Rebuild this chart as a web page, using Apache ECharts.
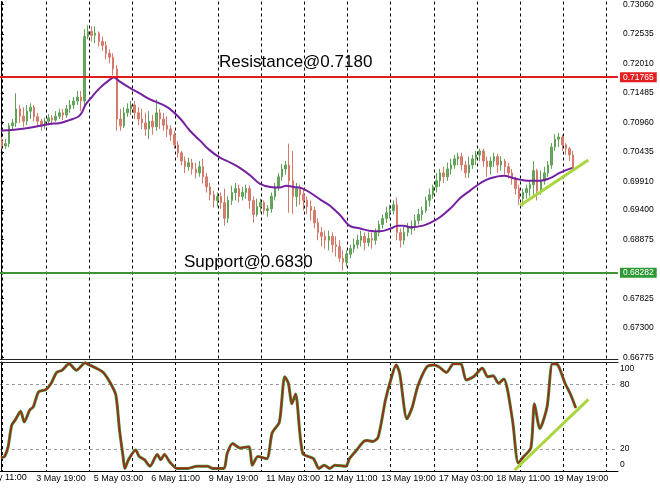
<!DOCTYPE html>
<html><head><meta charset="utf-8">
<script src="https://cdn.jsdelivr.net/npm/echarts@6/dist/echarts.min.js"></script>
<style>html,body{margin:0;padding:0;background:#fff}#c{width:660px;height:492px}</style>
</head><body><div id="c"></div>
<script>
// 2-hour bars, hour 0 = 3 May 01:00 (trading hours)
const barOpen = [0.7063,0.7054,0.7058,0.7090,0.7095,0.7120,0.7107,0.7098,0.7116,0.7123,
0.7106,0.7098,0.7091,0.7098,0.7104,0.7100,0.7107,0.7113,0.7109,0.7120,
0.7127,0.7134,0.7141,0.7134,0.7249,0.7258,0.7251,0.7255,0.7240,0.7233,
0.7219,0.7212,0.7191,0.7102,0.7090,0.7113,0.7120,0.7127,0.7113,0.7102,
0.7095,0.7084,0.7098,0.7088,0.7113,0.7102,0.7091,0.7084,0.7074,0.7056,
0.7042,0.7027,0.7017,0.7024,0.7013,0.7006,0.7017,0.6999,0.6981,0.6967,
0.6957,0.6964,0.6953,0.6925,0.6957,0.6971,0.6978,0.6964,0.6971,0.6978,
0.6957,0.6932,0.6946,0.6953,0.6939,0.6942,0.6964,0.6981,0.6999,0.7013,
0.7020,0.6992,0.6964,0.6978,0.6967,0.6957,0.6946,0.6939,0.6917,0.6900,
0.6893,0.6886,0.6893,0.6878,0.6875,0.6854,0.6847,0.6861,0.6871,0.6878,
0.6886,0.6893,0.6882,0.6889,0.6886,0.6900,0.6914,0.6925,0.6935,0.6939,
0.6949,0.6900,0.6886,0.6900,0.6907,0.6910,0.6921,0.6932,0.6939,0.6957,
0.6967,0.6981,0.6992,0.7006,0.6999,0.7013,0.7020,0.7031,0.7035,0.7020,
0.7006,0.7020,0.7031,0.7038,0.7045,0.7027,0.7017,0.7027,0.7035,0.7020,
0.7027,0.7017,0.7006,0.6996,0.6978,0.6960,0.6971,0.6978,0.6985,0.7010,
0.6974,0.6992,0.7006,0.7020,0.7052,0.7066,0.7070,0.7056,0.7049,0.7038];
const barClose = [0.7054,0.7058,0.7090,0.7095,0.7120,0.7107,0.7098,0.7116,0.7123,0.7106,
0.7098,0.7091,0.7098,0.7104,0.7100,0.7107,0.7113,0.7109,0.7120,0.7127,
0.7134,0.7141,0.7134,0.7249,0.7258,0.7251,0.7255,0.7240,0.7233,0.7219,
0.7212,0.7191,0.7102,0.7090,0.7113,0.7120,0.7127,0.7113,0.7102,0.7095,
0.7084,0.7098,0.7088,0.7113,0.7102,0.7091,0.7084,0.7074,0.7056,0.7042,
0.7027,0.7017,0.7024,0.7013,0.7006,0.7017,0.6999,0.6981,0.6967,0.6957,
0.6964,0.6953,0.6925,0.6957,0.6971,0.6978,0.6964,0.6971,0.6978,0.6957,
0.6932,0.6946,0.6953,0.6939,0.6942,0.6964,0.6981,0.6999,0.7013,0.7020,
0.6992,0.6964,0.6978,0.6967,0.6957,0.6946,0.6939,0.6917,0.6900,0.6893,
0.6886,0.6893,0.6878,0.6875,0.6854,0.6847,0.6861,0.6871,0.6878,0.6886,
0.6893,0.6882,0.6889,0.6886,0.6900,0.6914,0.6925,0.6935,0.6939,0.6949,
0.6900,0.6886,0.6900,0.6907,0.6910,0.6921,0.6932,0.6939,0.6957,0.6967,
0.6981,0.6992,0.7006,0.6999,0.7013,0.7020,0.7031,0.7035,0.7020,0.7006,
0.7020,0.7031,0.7038,0.7045,0.7027,0.7017,0.7027,0.7035,0.7020,0.7027,
0.7017,0.7006,0.6996,0.6978,0.6960,0.6971,0.6978,0.6985,0.7010,0.6974,
0.6992,0.7006,0.7020,0.7052,0.7066,0.7070,0.7056,0.7049,0.7038,0.70116];
const barHigh = [0.7070,0.7066,0.7095,0.7102,0.7148,0.7127,0.7123,0.7127,0.7130,0.7127,
0.7113,0.7102,0.7104,0.7111,0.7109,0.7116,0.7120,0.7120,0.7127,0.7136,
0.7141,0.7152,0.7152,0.7262,0.7269,0.7267,0.7267,0.7258,0.7249,0.7240,
0.7226,0.7219,0.7198,0.7120,0.7123,0.7130,0.7134,0.7134,0.7123,0.7120,
0.7113,0.7116,0.7109,0.7137,0.7120,0.7113,0.7107,0.7091,0.7081,0.7063,
0.7045,0.7035,0.7033,0.7031,0.7024,0.7027,0.7031,0.7006,0.6988,0.6974,
0.6971,0.6971,0.6978,0.6964,0.6983,0.6988,0.6985,0.6981,0.6985,0.6983,
0.6964,0.6960,0.6960,0.6957,0.6949,0.6971,0.6988,0.7006,0.7022,0.7027,
0.7058,0.7045,0.6988,0.6985,0.6978,0.6964,0.6957,0.6946,0.6925,0.6910,
0.6903,0.6903,0.6900,0.6893,0.6886,0.6868,0.6868,0.6878,0.6889,0.6896,
0.6903,0.6900,0.6900,0.6900,0.6907,0.6921,0.6932,0.6946,0.6949,0.6957,
0.6962,0.6907,0.6910,0.6917,0.6921,0.6932,0.6942,0.6946,0.6964,0.6978,
0.6985,0.7006,0.7013,0.7017,0.7024,0.7031,0.7038,0.7042,0.7042,0.7027,
0.7035,0.7038,0.7045,0.7049,0.7049,0.7035,0.7035,0.7042,0.7040,0.7036,
0.7031,0.7024,0.7013,0.6999,0.6985,0.6978,0.6985,0.6992,0.7027,0.7013,
0.7010,0.7017,0.7027,0.7059,0.7075,0.7077,0.7074,0.7059,0.7052,0.7045];
const barLow = [0.7049,0.7049,0.7052,0.7084,0.7088,0.7095,0.7088,0.7091,0.7102,0.7098,
0.7088,0.7081,0.7084,0.7091,0.7091,0.7097,0.7102,0.7100,0.7104,0.7113,
0.7120,0.7127,0.7116,0.7127,0.7244,0.7240,0.7237,0.7231,0.7223,0.7208,
0.7201,0.7180,0.7081,0.7081,0.7086,0.7106,0.7109,0.7102,0.7091,0.7084,
0.7072,0.7066,0.7074,0.7081,0.7084,0.7081,0.7070,0.7063,0.7049,0.7033,
0.7019,0.7006,0.7010,0.7003,0.6996,0.6999,0.6987,0.6971,0.6957,0.6944,
0.6946,0.6942,0.6912,0.6917,0.6949,0.6957,0.6953,0.6957,0.6960,0.6942,
0.6917,0.6928,0.6935,0.6932,0.6928,0.6935,0.6957,0.6974,0.6992,0.7003,
0.6935,0.6933,0.6946,0.6949,0.6939,0.6932,0.6921,0.6907,0.6886,0.6875,
0.6871,0.6868,0.6864,0.6857,0.6847,0.6832,0.6839,0.6854,0.6864,0.6871,
0.6875,0.6868,0.6875,0.6871,0.6878,0.6893,0.6907,0.6917,0.6925,0.6932,
0.6886,0.6873,0.6878,0.6893,0.6896,0.6903,0.6914,0.6921,0.6935,0.6946,
0.6960,0.6971,0.6981,0.6988,0.6992,0.7003,0.7013,0.7020,0.7010,0.6997,
0.6997,0.7013,0.7020,0.7027,0.7017,0.6999,0.7003,0.7017,0.7006,0.7010,
0.7003,0.6996,0.6985,0.6967,0.6949,0.6946,0.6960,0.6964,0.6967,0.6957,
0.6967,0.6985,0.6999,0.7013,0.7045,0.7052,0.7045,0.7038,0.7027,0.7010];
const barStartHour = 0.5, barStepHours = 2;

// moving average (purple)
const maHours = [0,11,22,27,33,38,43,45,47,50,55,61,63,66,72,77,83,89,94,100,105,111,116,122,128,133,139,144,150,155,159,163,168,172,178,183,189,194,200,205,211,217,221,224,228,235,239,244,250,256,261,267,272,280,285,289,293,300,306,311,318];
const maValues = [0.7081,0.7084,0.7090,0.7093,0.7095,0.7100,0.7106,0.7113,0.7127,0.7139,
0.7157,0.7173,0.7176,0.7169,0.7157,0.7148,0.7137,0.7129,0.7120,0.7102,
0.7082,0.7063,0.7047,0.7033,0.7024,0.7015,0.7001,0.6987,0.6981,0.6980,
0.6983,0.6981,0.6978,0.6971,0.6958,0.6948,0.6930,0.6912,0.6907,0.6903,
0.6902,0.6907,0.6912,0.6912,0.6909,0.6912,0.6917,0.6926,0.6942,0.6962,
0.6974,0.6988,0.6996,0.7001,0.6997,0.6994,0.6992,0.6992,0.6997,0.7006,0.7015];

// stochastic oscillator
const stochHours = [0,2,4,6,8,11,13,16,18,21,25,28,31,34,38,42,47,48,53,57,61,64,66,68,69,71,75,77,80,83,87,89,91,94,98,104,109,115,118,124,126,129,133,138,140,143,148,151,155,158,160,162,164,168,174,177,180,183,186,192,194,198,202,204,207,210,214,217,220,222,226,229,232,237,241,244,248,252,256,259,263,268,271,274,277,280,282,285,288,291,295,297,300,304,307,310,314,317,320];
const stochValues = [12,13,22,42,47,55,45,56,59,73,75,81,91,93,99,93,100,99,95,91,81,70,38,13,2,10,19,13,10,4,15,10,15,8,2,2,4,4,2,2,16,25,21,22,5,13,11,35,45,87,81,62,71,16,11,2,5,2,5,4,11,19,27,28,27,31,65,84,98,90,48,59,78,96,98,96,91,99,99,84,87,95,87,88,81,85,75,44,7,13,21,62,39,59,99,98,81,71,58];

// levels and trend lines
const resistanceLevel = 0.71765, supportLevel = 0.68282, lastPrice = 0.70116;
const trendHours = [289, 327], trendPrices = [0.6948, 0.7029];
const stochTrendHours = [286, 327], stochTrendValues = [0.5, 66];

// axis ticks
const priceTicks = [0.73060,0.72535,0.72010,0.71485,0.70960,0.70435,0.69910,0.69400,0.68875,0.67825,0.67300,0.66775];
const gridHours = [1,25,49,73,97,121,145,169,193,217,241,265,289,313,337];
const labelHours = [18,50,82,114,146,178,210,242,274,306];
const labelTexts = ['3 May 19:00','5 May 03:00','6 May 11:00','9 May 19:00','11 May 03:00','12 May 11:00','13 May 19:00','17 May 03:00','18 May 11:00','19 May 19:00'];
const stochTicks = [0,20,80,100];

const FF = '"Liberation Sans", Arial, sans-serif';
const candles = barOpen.map((o,i)=>[barStartHour + i*barStepHours, o, barClose[i], barLow[i], barHigh[i]]);
const ma = maHours.map((h,i)=>[h, maValues[i]]);
const stoch = stochHours.map((h,i)=>[h, stochValues[i]]);
const trend = trendHours.map((h,i)=>[h, trendPrices[i]]);
const strend = stochTrendHours.map((h,i)=>[h, stochTrendValues[i]]);

const vgrid = {show:true, lineStyle:{color:'#000', type:[3,3], width:1}};
const chart = echarts.init(document.getElementById('c'), null, {renderer:'canvas'});
function lvlLabel(bg){
  return {show:true, position:'end', distance:2, formatter:p=>Number(p.value).toFixed(5), color:'#fff', backgroundColor:bg, padding:[1,3,0,3], fontSize:8.5, fontFamily:FF};
}
chart.setOption({
  animation:false,
  backgroundColor:'#fff',
  grid:[{left:0,right:42,top:0,height:359},{left:0,right:42,top:362,height:109}],
  xAxis:[
    {type:'value',gridIndex:0,min:-0.5,max:343.5,axisLine:{show:true,onZero:false,lineStyle:{color:'#222'}},axisTick:{show:false,customValues:gridHours},axisLabel:{show:false},splitLine:vgrid},
    {type:'value',gridIndex:1,min:-0.5,max:343.5,axisLine:{show:true,onZero:false,lineStyle:{color:'#000'}},axisTick:{show:false,customValues:gridHours},
      axisLabel:{customValues:labelHours,formatter:v=>labelTexts[labelHours.indexOf(v)],align:'left',padding:[0,0,0,3],color:'#000',fontSize:9,fontFamily:FF,margin:3},splitLine:vgrid},
    {type:'value',gridIndex:1,position:'top',min:-0.5,max:343.5,axisLine:{show:true,onZero:false,lineStyle:{color:'#222'}},axisTick:{show:false},axisLabel:{show:false},splitLine:{show:false}}
  ],
  yAxis:[
    {type:'value',gridIndex:0,position:'right',min:0.66744,max:0.73113,axisLine:{show:true,lineStyle:{color:'#000'}},
      axisTick:{show:true,length:3,customValues:priceTicks,lineStyle:{color:'#000'}},
      axisLabel:{customValues:priceTicks,formatter:v=>v.toFixed(5),color:'#000',fontSize:8.5,fontFamily:FF,margin:5},splitLine:{show:false}},
    {type:'value',gridIndex:1,position:'right',min:-0.4,max:100.7,axisLine:{show:true,lineStyle:{color:'#000'}},
      axisTick:{show:false,customValues:[20,80]},
      axisLabel:{customValues:stochTicks,margin:2,color:'#000',fontSize:8.5,fontFamily:FF,
        formatter:v=>v===100?'{t|100}':(v===0?'{b|0}':String(v)),
        rich:{t:{padding:[11,0,0,0],fontSize:8.5,fontFamily:FF,color:'#000'},b:{padding:[0,0,12,0],fontSize:8.5,fontFamily:FF,color:'#000'}}},
      splitLine:{show:true,lineStyle:{color:'#9a9a9a',type:[3,3],width:1}}}
  ],
  series:[
    {type:'candlestick',xAxisIndex:0,yAxisIndex:0,data:candles,barWidth:2,
      itemStyle:{color:'#6aa862',color0:'#d9806f',borderColor:'#5fa257',borderColor0:'#d47a6a',borderColorDoji:'#b89a80',borderWidth:1},
      markLine:{symbol:['none','none'],silent:true,animation:false,precision:5,
        data:[
          {yAxis:resistanceLevel,lineStyle:{color:'#e01e1e',width:2,type:'solid'},label:lvlLabel('#e41e1e')},
          {yAxis:supportLevel,lineStyle:{color:'#3f9437',width:2,type:'solid'},label:lvlLabel('#2f9a35')},
          {yAxis:lastPrice,lineStyle:{opacity:0,width:0},label:lvlLabel('#000')}
        ]}},
    {type:'line',xAxisIndex:0,yAxisIndex:0,data:ma,smooth:0.4,symbol:'none',lineStyle:{color:'#7420a0',width:2},z:3},
    {type:'line',xAxisIndex:0,yAxisIndex:0,data:trend,symbol:'none',lineStyle:{color:'#a9d63c',width:3},z:4},
    {type:'line',xAxisIndex:1,yAxisIndex:1,data:stoch,smooth:0.25,symbol:'none',lineStyle:{color:'#3f8f2f',width:3}},
    {type:'line',xAxisIndex:1,yAxisIndex:1,data:stoch,smooth:0.25,symbol:'none',lineStyle:{color:'#a3261a',width:1.6},z:3},
    {type:'line',xAxisIndex:1,yAxisIndex:1,data:strend,symbol:'none',lineStyle:{color:'#a9d63c',width:3},z:4}
  ],
  graphic:[
    {type:'text',x:219,y:62,style:{text:'Resistance@0.7180',fill:'#000',fontSize:17,fontFamily:FF,verticalAlign:'middle'}},
    {type:'text',x:184,y:262,style:{text:'Support@0.6830',fill:'#000',fontSize:17,fontFamily:FF,verticalAlign:'middle'}},
    {type:'text',x:-22,y:478,style:{text:'2 May 11:00',fill:'#000',fontSize:9,fontFamily:FF,verticalAlign:'middle'}}
  ]
});
</script></body></html>
